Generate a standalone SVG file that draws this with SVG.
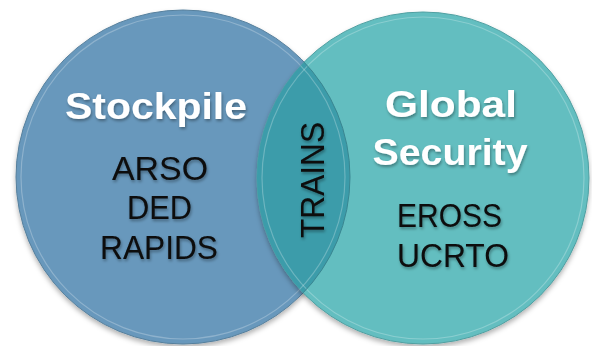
<svg xmlns="http://www.w3.org/2000/svg" width="592" height="346" viewBox="0 0 592 346">
<defs>
<style>
.title{font-family:"Liberation Sans",Arial,sans-serif;font-weight:bold;font-size:37px;fill:#ffffff;text-anchor:middle}
.item{font-family:"Liberation Sans",Arial,sans-serif;font-size:33px;fill:#0a0a0a;text-anchor:middle}
.bevel{fill:none;stroke:#ffffff;stroke-opacity:0.25;stroke-width:1.2}
</style>
<filter id="sh" x="-20%" y="-20%" width="140%" height="160%">
<feDropShadow dx="1" dy="2" stdDeviation="1.6" flood-color="#000" flood-opacity="0.35"/>
</filter>
<filter id="csh" x="-10%" y="-10%" width="120%" height="125%">
<feDropShadow dx="0" dy="3" stdDeviation="2.5" flood-color="#000" flood-opacity="0.3"/>
</filter>
<clipPath id="clipL"><circle cx="183" cy="177" r="167"/></clipPath>
<clipPath id="clipR"><circle cx="423" cy="178" r="166"/></clipPath>
</defs>
<rect width="592" height="346" fill="#ffffff"/>
<g id="stockpile">
<circle cx="183" cy="177" r="167" fill="#6898BC" stroke="#557f9c" stroke-width="1" filter="url(#csh)"/>
<circle class="bevel" cx="183" cy="177" r="162"/>
</g>
<g id="global-security">
<circle cx="423" cy="178" r="166" fill="#63BEC0" stroke="#4f9fa1" stroke-width="1" filter="url(#csh)"/>
<circle class="bevel" cx="423" cy="178" r="161"/>
</g>
<g id="trains">
<circle cx="423" cy="178" r="166" fill="#3C9CAA" clip-path="url(#clipL)"/>
<g clip-path="url(#clipL)"><circle class="bevel" cx="423" cy="178" r="161"/></g>
<g clip-path="url(#clipR)"><circle class="bevel" cx="183" cy="177" r="162"/><circle cx="183" cy="177" r="167" fill="none" stroke="#3a8590" stroke-width="1"/></g>
</g>
<g id="labels-left" filter="url(#sh)">
<text class="title" x="156" y="119" textLength="182" lengthAdjust="spacingAndGlyphs">Stockpile</text>
<text class="item" x="160" y="180" textLength="96" lengthAdjust="spacingAndGlyphs">ARSO</text>
<text class="item" x="159.5" y="219" textLength="65" lengthAdjust="spacingAndGlyphs">DED</text>
<text class="item" x="159" y="259" textLength="118" lengthAdjust="spacingAndGlyphs">RAPIDS</text>
</g>
<g id="labels-mid" filter="url(#sh)">
<text class="item" transform="translate(324,180) rotate(-90)" x="0" y="0" textLength="116" lengthAdjust="spacingAndGlyphs">TRAINS</text>
</g>
<g id="labels-right" filter="url(#sh)">
<text class="title" x="451" y="117" textLength="132" lengthAdjust="spacingAndGlyphs">Global</text>
<text class="title" x="450" y="165" textLength="155" lengthAdjust="spacingAndGlyphs">Security</text>
<text class="item" x="449.5" y="227" textLength="105" lengthAdjust="spacingAndGlyphs">EROSS</text>
<text class="item" x="453" y="267" textLength="112" lengthAdjust="spacingAndGlyphs">UCRTO</text>
</g>
<g id="connectors"/>
</svg>
